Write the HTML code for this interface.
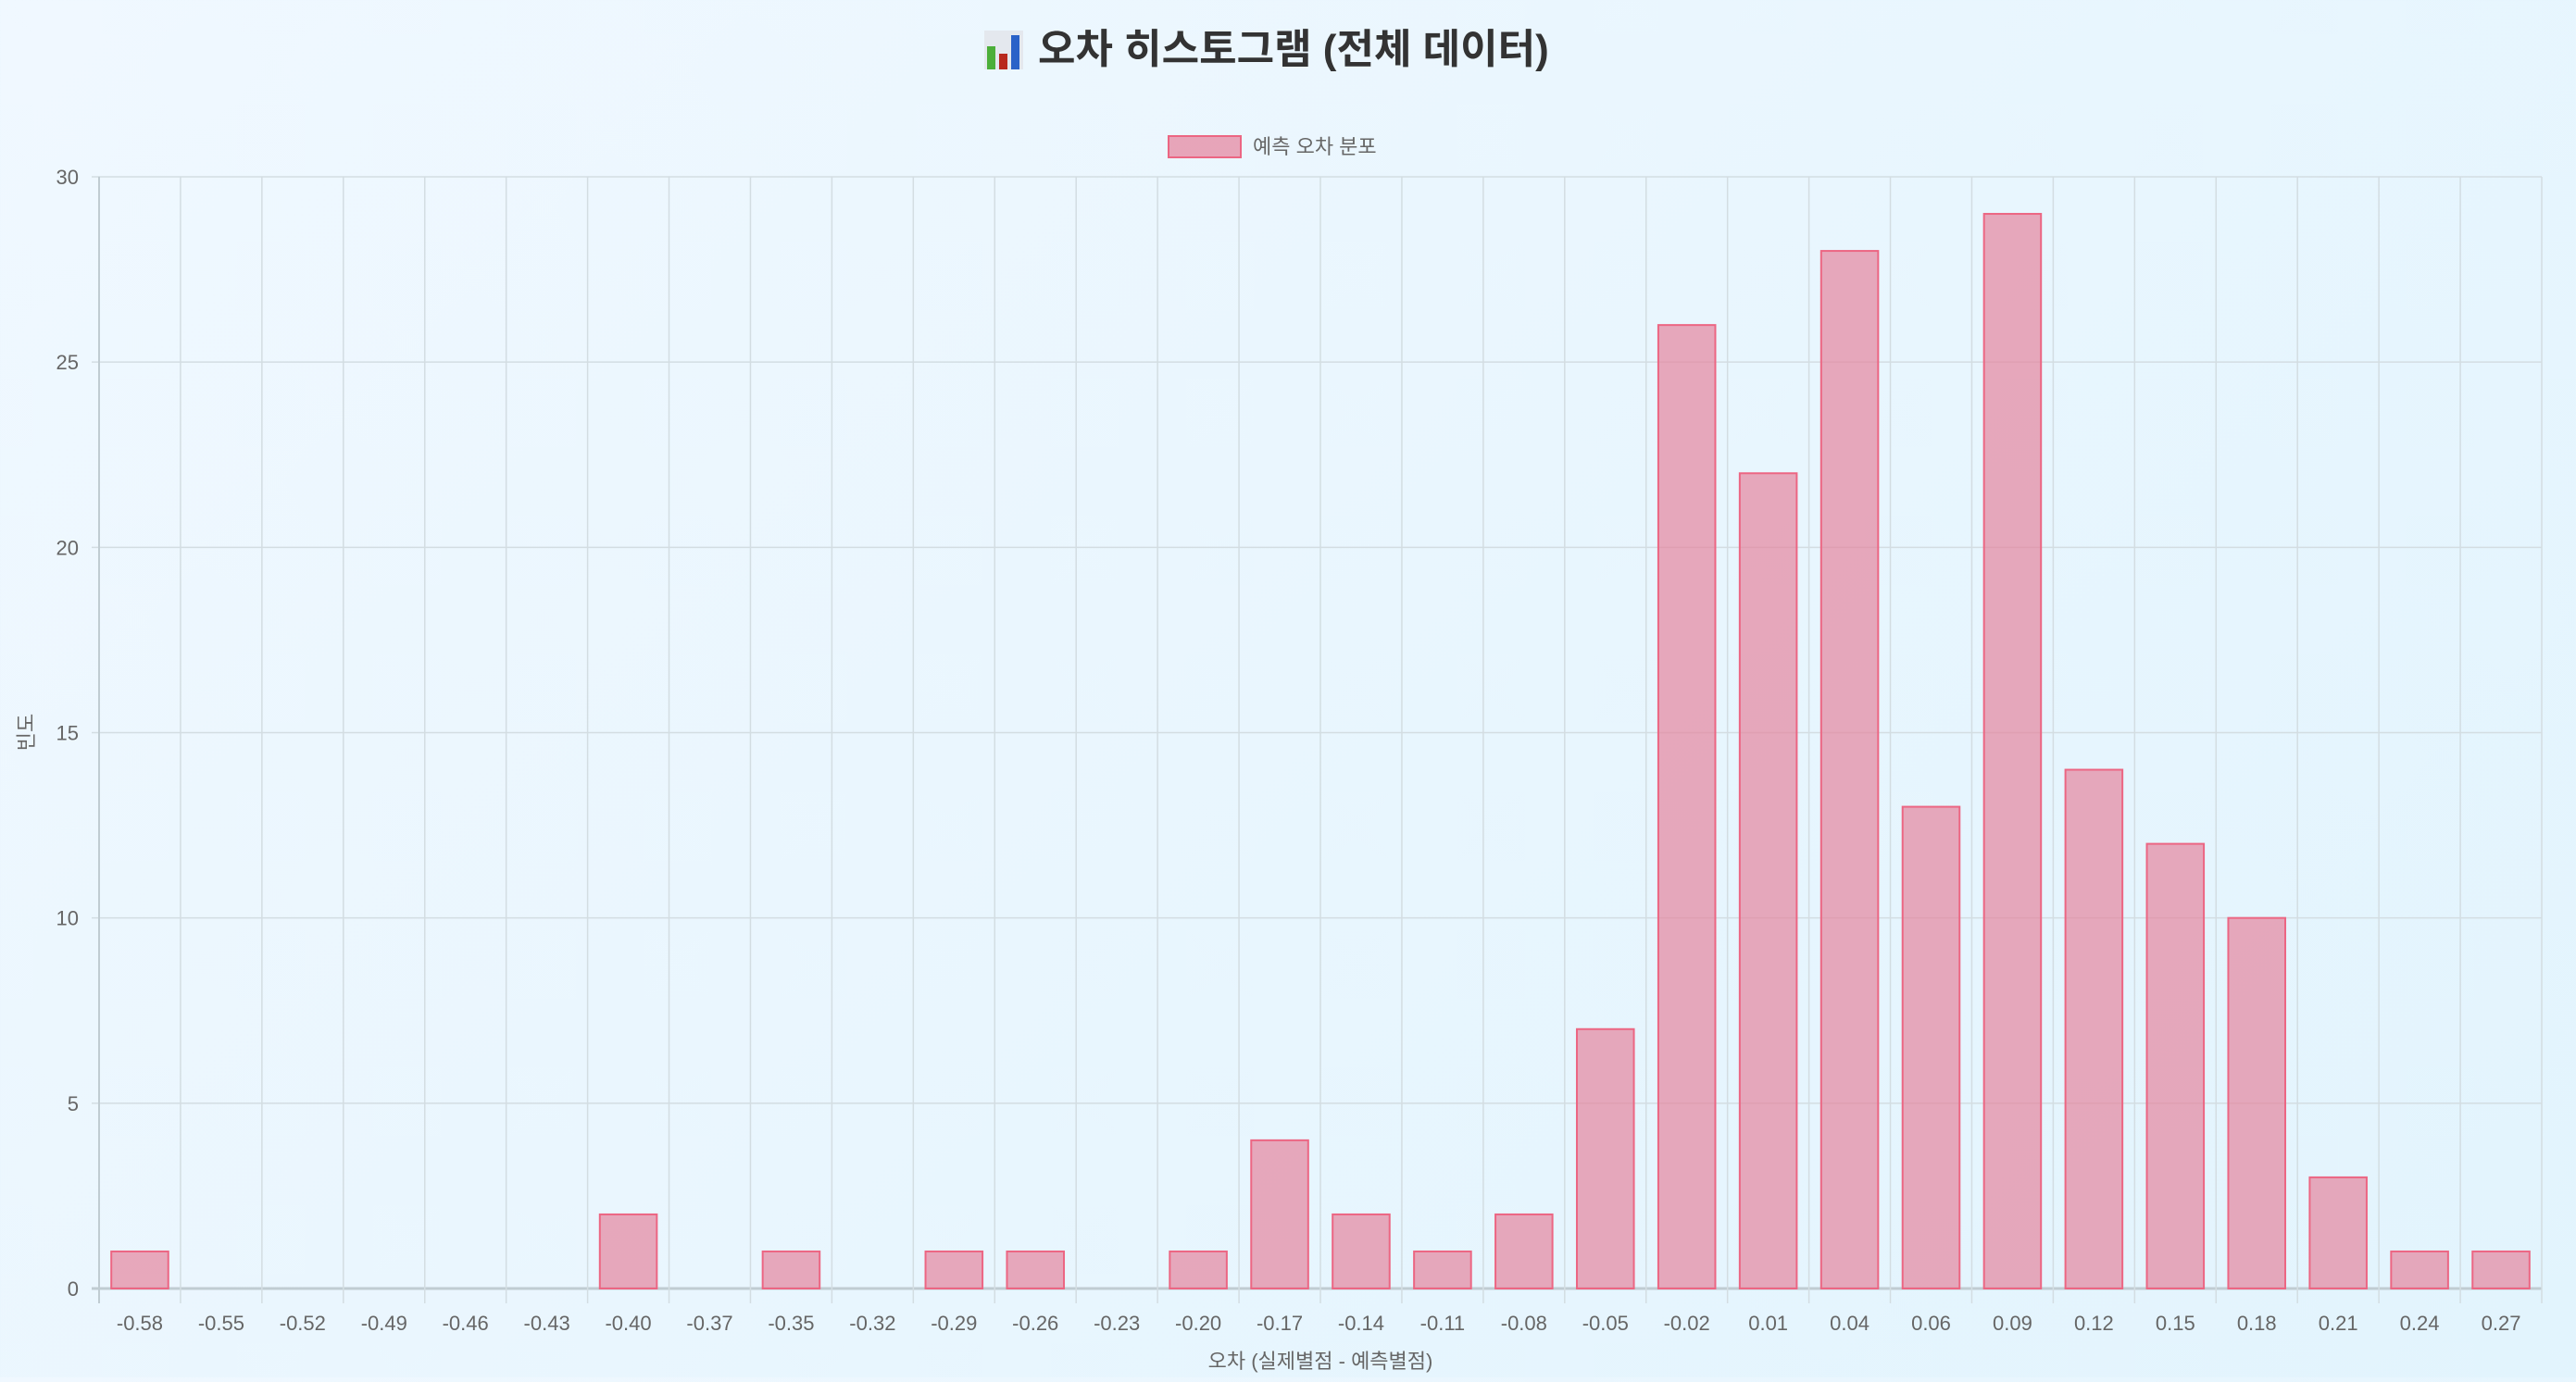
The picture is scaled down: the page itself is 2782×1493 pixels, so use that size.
<!DOCTYPE html>
<html><head><meta charset="utf-8"><style>
html,body{margin:0;padding:0;}
body{width:2782px;height:1488px;background:linear-gradient(135deg,#f0f8ff 0%,#e2f4fd 100%);font-family:"Liberation Sans","Noto Sans CJK KR",sans-serif;overflow:hidden;}
</style></head><body>
<svg id="chart" width="2782" height="1488" xmlns="http://www.w3.org/2000/svg" style="font-family:'Liberation Sans','Noto Sans CJK KR',sans-serif">
<g>
  <rect x="1063" y="33" width="42" height="42" fill="#e4e8ee"/>
  <rect x="1066" y="50" width="9" height="25" fill="#4caf3a"/>
  <rect x="1079" y="58" width="9" height="17" fill="#b8281e"/>
  <rect x="1092" y="38" width="9" height="37" fill="#2a62c8"/>
  <text x="1121" y="68" font-size="44" font-weight="bold" fill="#333">오차 히스토그램 (전체 데이터)</text>
</g>
<g>
  <rect x="1262" y="147" width="78" height="23" fill="rgba(229,130,155,0.7)" stroke="#ec6683" stroke-width="2"/>
  <text x="1353" y="166" font-size="22" fill="#666">예측 오차 분포</text>
</g>
<g id="grid"></g>
<g id="bars"></g>
<g id="labels"></g>
<text transform="translate(36,791) rotate(-90)" text-anchor="middle" font-size="22" fill="#666">빈도</text>
<text x="1426" y="1478" text-anchor="middle" font-size="22" fill="#666">오차 (실제별점 - 예측별점)</text>
</svg>
<script>
const categories = ["-0.58","-0.55","-0.52","-0.49","-0.46","-0.43","-0.40","-0.37","-0.35","-0.32","-0.29","-0.26","-0.23","-0.20","-0.17","-0.14","-0.11","-0.08","-0.05","-0.02","0.01","0.04","0.06","0.09","0.12","0.15","0.18","0.21","0.24","0.27"];
const counts = [1,0,0,0,0,0,2,0,1,0,1,1,0,1,4,2,1,2,7,26,22,28,13,29,14,12,10,3,1,1];
const yTicks = [0,5,10,15,20,25,30];
const NS="http://www.w3.org/2000/svg";
const L=107,R=2745,T=191,B=1392,yMax=30;
const bw=(R-L)/categories.length;
function xPos(i){return L+bw*i;}
function yPos(v){return B-(v/yMax)*(B-T);}
const grid=document.getElementById('grid'),bars=document.getElementById('bars'),labels=document.getElementById('labels');
function mk(tag,attrs,parent){const e=document.createElementNS(NS,tag);for(const k in attrs)e.setAttribute(k,attrs[k]);parent.appendChild(e);return e;}
yTicks.forEach(t=>{
  const y=yPos(t);
  const ln=mk('line',{x1:L-8,x2:R,y1:y,y2:y,stroke:t===0?'#c0ccd2':'#d3dde2','stroke-width':t===0?3:1.5},grid);
  
  
  const tx=mk('text',{x:L-22,y:y+8,'text-anchor':'end','font-size':22,fill:'#666'},labels);
  tx.textContent=t;
  
  
});
for(let i=0;i<=categories.length;i++){
  const x=xPos(i);
  const ln=mk('line',{x1:x,x2:x,y1:T,y2:B+16,stroke:i===0?'#c0ccd2':'#d3dde2','stroke-width':i===0?2:1.5},grid);
  
  
}
categories.forEach((c,i)=>{
  const cx=xPos(i)+bw/2;
  const tx=mk('text',{x:cx,y:1437,'text-anchor':'middle','font-size':22,fill:'#666'},labels);
  tx.textContent=c;
  
  
  const v=counts[i];
  if(v>0){
    const w=bw*0.7;
    const r=mk('rect',{x:cx-w/2,y:yPos(v),width:w,height:B-yPos(v),fill:'rgba(229,130,155,0.68)',stroke:'#ec6683','stroke-width':2},bars);
    
    
  }
});
</script>
</body></html>
